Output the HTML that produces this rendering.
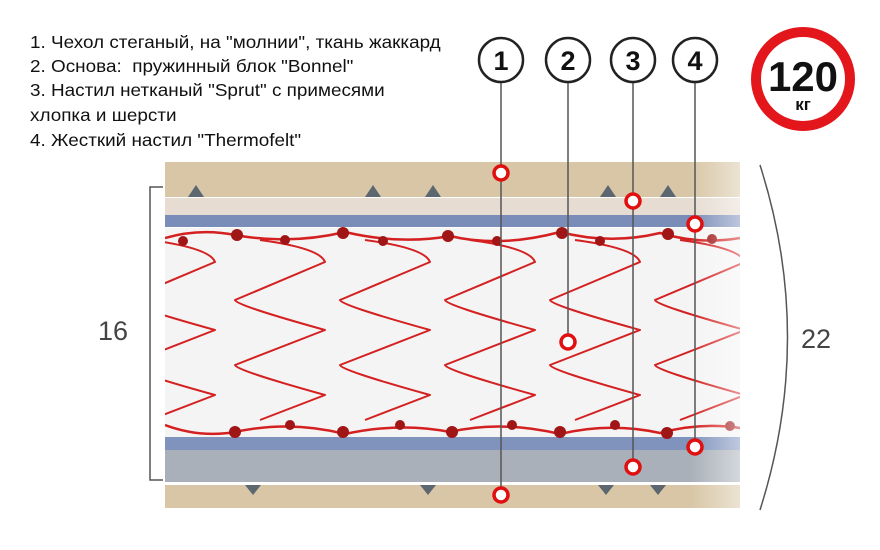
<!DOCTYPE html>
<html><head><meta charset="utf-8"><style>
body{margin:0;background:#fff;width:880px;height:550px;overflow:hidden;font-family:"Liberation Sans",sans-serif}
.t{position:absolute;left:30px;font-size:17.5px;color:#111;white-space:nowrap;transform:scaleX(1.08);transform-origin:left top}
</style></head><body>
<div class="t" style="top:32px">1. Чехол стеганый, на "молнии", ткань жаккард</div>
<div class="t" style="top:56px">2. Основа:&nbsp; пружинный блок "Bonnel"</div>
<div class="t" style="top:80px">3. Настил нетканый "Sprut" с примесями</div>
<div class="t" style="top:105px">хлопка и шерсти</div>
<div class="t" style="top:130px">4. Жесткий настил "Thermofelt"</div>
<svg width="880" height="550" style="position:absolute;left:0;top:0">
<defs>
<clipPath id="c"><rect x="165" y="160" width="575" height="350"/></clipPath>
<linearGradient id="fade" x1="0" x2="1"><stop offset="0" stop-color="#fff" stop-opacity="0"/><stop offset="1" stop-color="#fff" stop-opacity="0.5"/></linearGradient>
<g id="spr">
<path d="M-20,240 Q40,248 45,262 L-45,300 Q-45,305 45,330 L-45,365 Q-45,370 45,395 L-20,420" fill="none" stroke="#d42020" stroke-width="2" stroke-linejoin="round"/>
</g>
</defs>
<g clip-path="url(#c)">
<rect x="165" y="162" width="575" height="35" fill="#d8c6a6"/>
<rect x="165" y="198" width="575" height="17" fill="#e6dcd1"/>
<rect x="165" y="215" width="575" height="12" fill="#7a8cb8"/>
<rect x="165" y="228" width="575" height="209" fill="#f4f4f4"/>
<rect x="165" y="437" width="575" height="13" fill="#7f93bd"/>
<rect x="165" y="450" width="575" height="32" fill="#a9b0b9"/>
<rect x="165" y="485" width="575" height="23" fill="#d8c6a6"/>
<g fill="#5d6770"><path d="M188,197 l8,-12 l8,12z"/><path d="M365,197 l8,-12 l8,12z"/><path d="M425,197 l8,-12 l8,12z"/><path d="M600,197 l8,-12 l8,12z"/><path d="M660,197 l8,-12 l8,12z"/>
<path d="M245,485 l8,10 l8,-10z"/><path d="M420,485 l8,10 l8,-10z"/><path d="M598,485 l8,10 l8,-10z"/><path d="M650,485 l8,10 l8,-10z"/></g>
<use href="#spr" x="170"/><use href="#spr" x="280"/><use href="#spr" x="385"/><use href="#spr" x="490"/><use href="#spr" x="595"/><use href="#spr" x="700"/>
<path d="M165,238 Q200,228 235,235 Q290,245 345,232 Q400,245 450,236 Q500,248 560,232 Q610,245 660,233 Q700,245 740,238" fill="none" stroke="#d42020" stroke-width="2.5"/>
<path d="M165,425 Q200,438 235,432 Q290,420 345,434 Q400,422 450,432 Q500,420 560,434 Q610,422 660,433 Q700,422 740,428" fill="none" stroke="#d42020" stroke-width="2.5"/>
<g fill="#a01515"><circle cx="183" cy="241" r="5"/><circle cx="237" cy="235" r="6"/><circle cx="285" cy="240" r="5"/><circle cx="343" cy="233" r="6"/><circle cx="383" cy="241" r="5"/><circle cx="448" cy="236" r="6"/><circle cx="497" cy="241" r="5"/><circle cx="562" cy="233" r="6"/><circle cx="600" cy="241" r="5"/><circle cx="668" cy="234" r="6"/><circle cx="712" cy="239" r="5"/>
<circle cx="235" cy="432" r="6"/><circle cx="290" cy="425" r="5"/><circle cx="343" cy="432" r="6"/><circle cx="400" cy="425" r="5"/><circle cx="452" cy="432" r="6"/><circle cx="512" cy="425" r="5"/><circle cx="560" cy="432" r="6"/><circle cx="615" cy="425" r="5"/><circle cx="667" cy="433" r="6"/><circle cx="730" cy="426" r="5"/></g>
<rect x="690" y="160" width="50" height="350" fill="url(#fade)"/>
</g>
<g stroke="#555" stroke-width="1.5" fill="none">
<path d="M163,187 H150 V480 H163"/>
<path d="M760,165 Q815,337 760,510"/>
<line x1="501" y1="82" x2="501" y2="495"/><line x1="568" y1="82" x2="568" y2="342"/><line x1="633" y1="82" x2="633" y2="467"/><line x1="695" y1="82" x2="695" y2="447"/>
</g>
<g fill="#fff" stroke="#e01010" stroke-width="3.5">
<circle cx="501" cy="173" r="7"/><circle cx="501" cy="495" r="7"/><circle cx="568" cy="342" r="7"/><circle cx="633" cy="201" r="7"/><circle cx="633" cy="467" r="7"/><circle cx="695" cy="224" r="7"/><circle cx="695" cy="447" r="7"/>
</g>
<g fill="#fff" stroke="#222" stroke-width="2.5">
<circle cx="501" cy="60" r="22"/><circle cx="568" cy="60" r="22"/><circle cx="633" cy="60" r="22"/><circle cx="695" cy="60" r="22"/>
</g>
<g font-family="Liberation Sans,sans-serif" font-weight="bold" font-size="27" text-anchor="middle" fill="#111">
<text x="501" y="70">1</text><text x="568" y="70">2</text><text x="633" y="70">3</text><text x="695" y="70">4</text>
</g>
<text x="113" y="340" font-size="27" text-anchor="middle" fill="#444" font-family="Liberation Sans,sans-serif">16</text>
<text x="816" y="348" font-size="27" text-anchor="middle" fill="#444" font-family="Liberation Sans,sans-serif">22</text>
<circle cx="803" cy="79" r="47" fill="#fff" stroke="#e3161c" stroke-width="10"/>
<text x="803" y="91" font-size="42" font-weight="bold" text-anchor="middle" fill="#111" font-family="Liberation Sans,sans-serif">120</text>
<text x="803" y="110" font-size="17" font-weight="bold" text-anchor="middle" fill="#111" font-family="Liberation Sans,sans-serif">кг</text>
</svg>
</body></html>
